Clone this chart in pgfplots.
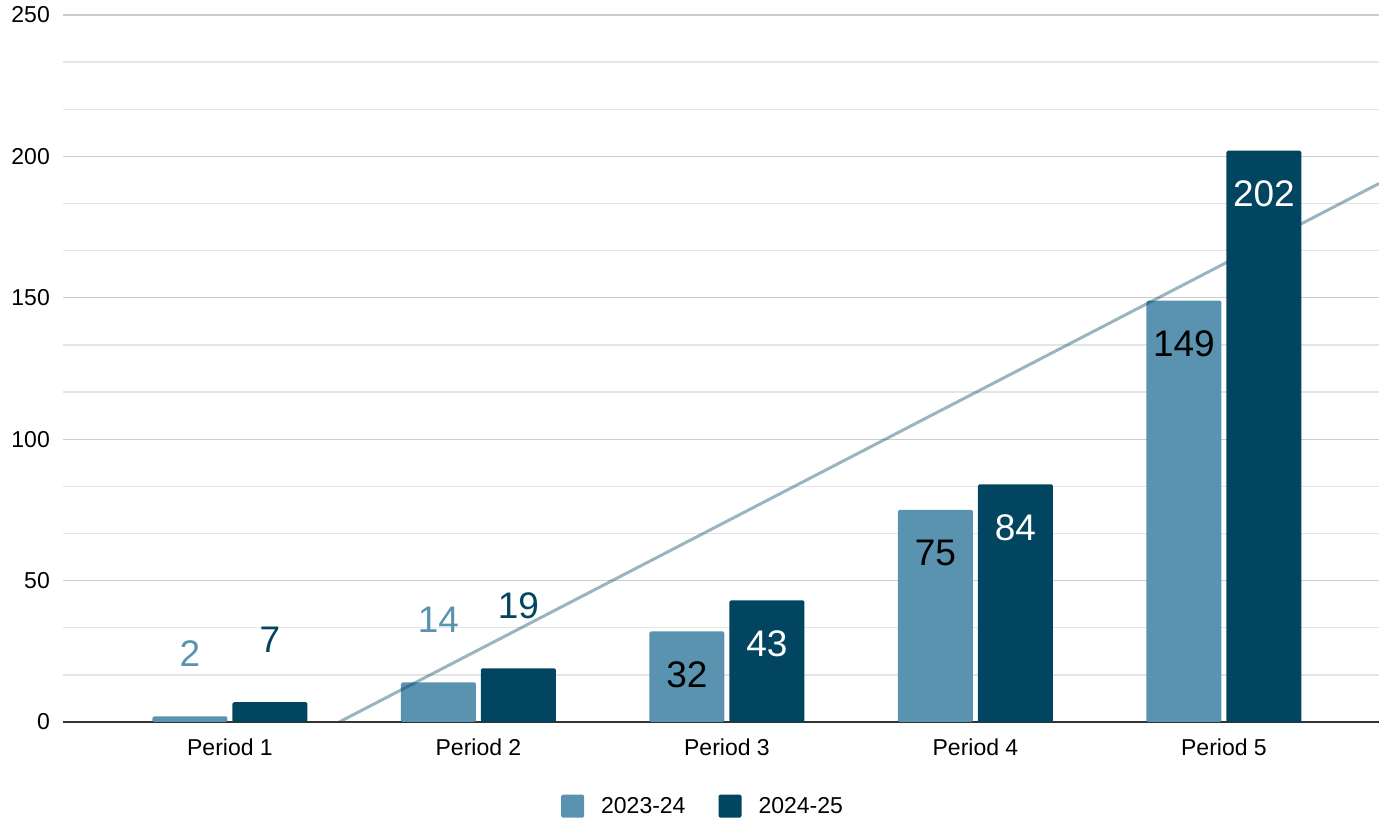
\documentclass[border=0pt]{standalone}
\usepackage{fontspec}
\setmainfont{Liberation Sans}
\usepackage{pgfplots}
\pgfplotsset{compat=1.18}

\definecolor{light}{RGB}{90,147,176}
\definecolor{dark}{RGB}{1,69,96}
\definecolor{majorgrid}{RGB}{204,204,204}
\definecolor{minorgrid}{RGB}{229,229,229}
\definecolor{zeroline}{RGB}{51,51,51}
\newcommand\tickfont{\fontsize{23}{27}\selectfont}
\newcommand\labelfont{\fontsize{37}{44}\selectfont}

\begin{document}
\begin{tikzpicture}
\begin{axis}[
  at={(63pt,96pt)}, anchor=south west,
  scale only axis, width=1316pt, height=707pt,
  xmin=0.328, xmax=5.624, ymin=0, ymax=250,
  xtick={1,...,5},
  xticklabels={Period 1,Period 2,Period 3,Period 4,Period 5},
  ytick={0,50,...,250}, minor y tick num=2,
  ymajorgrids, yminorgrids,
  major grid style={majorgrid, line width=1.3pt},
  minor grid style={minorgrid, line width=1.3pt},
  axis line style={draw=none},
  major tick length=0pt, minor tick length=0pt,
  tick style={draw=none},
  /pgf/number format/assume math mode=true,
  ticklabel style={font=\tickfont, text=black, inner sep=0pt},
  yticklabel style={anchor=east, xshift=-13pt},
  xticklabel style={anchor=base, yshift=-34pt},
  extra y ticks={0}, extra y tick labels={},
  extra y tick style={grid=major, major grid style={zeroline, line width=1.5pt}},
  legend columns=2,
  legend style={at={(0.4856,-0.119)}, anchor=center, draw=none, fill=none,
    font=\tickfont, nodes={inner sep=0pt},
    /tikz/every odd column/.append style={column sep=17pt},
    /tikz/every even column/.append style={column sep=33pt}},
]

% small values: labels above the bars
\addplot[ybar, bar width=75pt, bar shift=-40pt, fill=light, draw=none,
  rounded corners=1.5pt,
  nodes near coords,
  every node near coord/.append style={anchor=base, xshift=-40pt, yshift=50pt,
    text=light, font=\labelfont, inner sep=0pt},
  legend image code/.code={\fill[light] (0pt,-11.5pt) rectangle (23pt,11.5pt);}]
  coordinates {(1,2) (2,14)};
\addlegendentry{2023-24}

\addplot[ybar, bar width=75pt, bar shift=40pt, fill=dark, draw=none,
  rounded corners=1.5pt,
  nodes near coords,
  every node near coord/.append style={anchor=base, xshift=40pt, yshift=50pt,
    text=dark, font=\labelfont, inner sep=0pt},
  legend image code/.code={\fill[dark] (0pt,-11.5pt) rectangle (23pt,11.5pt);}]
  coordinates {(1,7) (2,19)};
\addlegendentry{2024-25}

% larger values: labels inside the bars
\addplot[ybar, bar width=75pt, bar shift=-40pt, fill=light, draw=none,
  rounded corners=1.5pt, forget plot,
  nodes near coords,
  every node near coord/.append style={anchor=base, xshift=-40pt, yshift=-56pt,
    text=black, font=\labelfont, inner sep=0pt}]
  coordinates {(3,32) (4,75) (5,149)};

\addplot[ybar, bar width=75pt, bar shift=40pt, fill=dark, draw=none,
  rounded corners=1.5pt, forget plot,
  nodes near coords,
  every node near coord/.append style={anchor=base, xshift=40pt, yshift=-56pt,
    text=white, font=\labelfont, inner sep=0pt}]
  coordinates {(3,43) (4,84) (5,202)};

% linear trend of 2024-25
\addplot[dark, opacity=0.4, line width=3pt, forget plot]
  coordinates {(1.4396,0) (5.624,190.4)};

\end{axis}
\pgfresetboundingbox
\path[use as bounding box] (0,0) rectangle (1379pt,818pt);
\end{tikzpicture}
\end{document}
